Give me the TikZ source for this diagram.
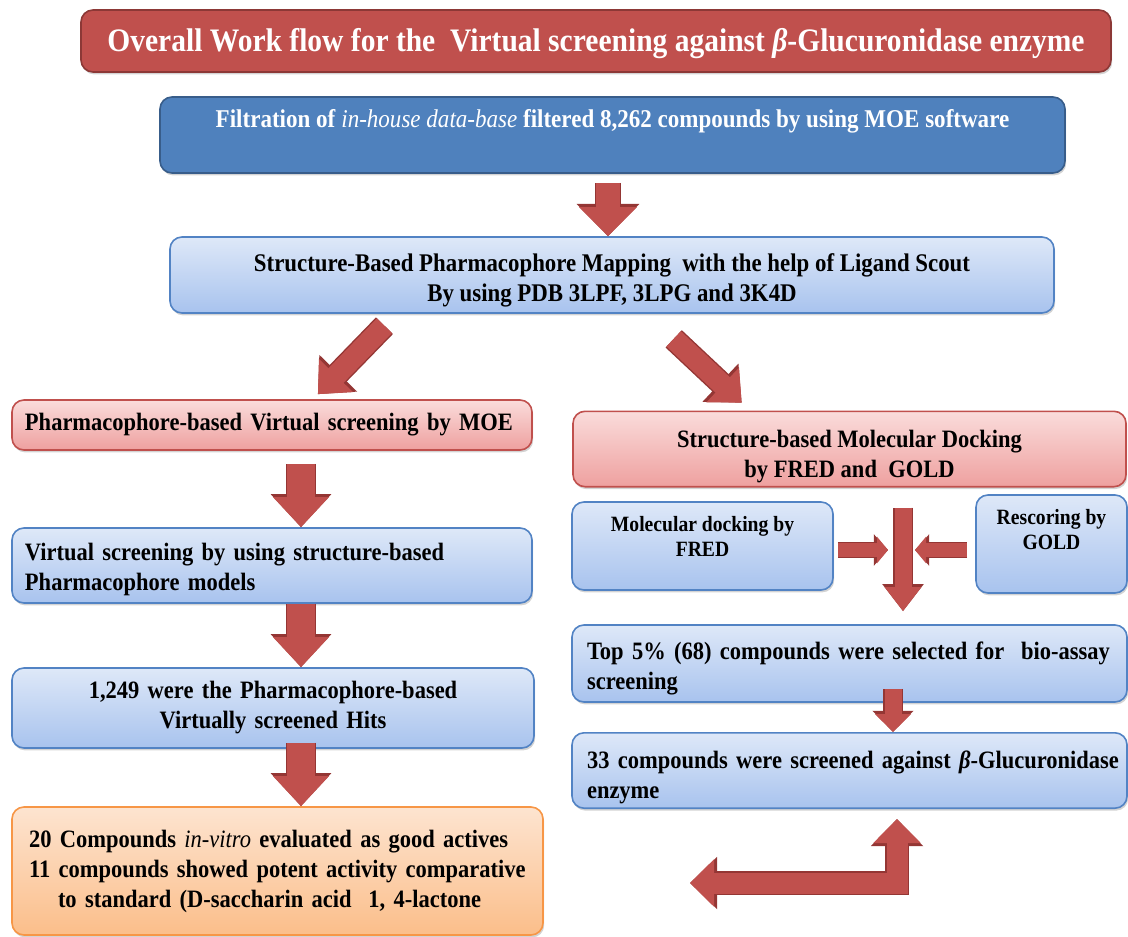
\documentclass[tikz,border=0pt]{standalone}
\usepackage{fontspec}
\setmainfont[FakeStretch=0.9]{Liberation Serif}
\usetikzlibrary{arrows.meta,shadows}

\definecolor{titlered}{HTML}{C0504D}
\definecolor{titleedge}{HTML}{8C3836}
\definecolor{moeblue}{HTML}{4F81BD}
\definecolor{moeedge}{HTML}{385D8A}
\definecolor{paleblue}{HTML}{DEE8F8}
\definecolor{midblue}{HTML}{A8C3EE}
\definecolor{blueedge}{HTML}{5283C4}
\definecolor{palepink}{HTML}{FADCDB}
\definecolor{midpink}{HTML}{EEA09F}
\definecolor{pinkedge}{HTML}{C0504D}
\definecolor{paleorange}{HTML}{FDE4D0}
\definecolor{midorange}{HTML}{FBBE8A}
\definecolor{orangeedge}{HTML}{F79646}
\definecolor{arrowred}{HTML}{C0504D}
\definecolor{arrowedge}{HTML}{943634}

\tikzset{
  box/.style={rounded corners=6pt, line width=0.8pt, inner xsep=6.5pt, inner ysep=2pt,
    font=\bfseries\fontsize{12.5}{15}\selectfont,
    drop shadow={shadow xshift=0.6pt, shadow yshift=-1.2pt, opacity=0.35}},
  bluebox/.style={box, draw=blueedge, top color=paleblue, bottom color=midblue},
  pinkbox/.style={box, draw=pinkedge, top color=palepink, bottom color=midpink},
  orangebox/.style={box, draw=orangeedge, top color=paleorange, bottom color=midorange},
  smallbox/.style={bluebox, align=center, font=\bfseries\fontsize{10.9}{12.5}\selectfont},
  blockarrow/.style n args={3}{draw=arrowred, line width=#1,
    -{Triangle[length=#3, width=#2]},
    preaction={draw=arrowedge, line width=#1+1.4pt,
      -{Triangle[length=#3+1.6pt, width=#2+2.4pt]}}},
  twowayarrow/.style n args={3}{draw=arrowred, line width=#1,
    {Triangle[length=#3, width=#2]}-{Triangle[length=#3, width=#2]},
    preaction={draw=arrowedge, line width=#1+1.4pt,
      {Triangle[length=#3+1.6pt, width=#2+2.4pt]}-{Triangle[length=#3+1.6pt, width=#2+2.4pt]}}}
}

\begin{document}
\begin{tikzpicture}[x=0.5pt, y=-0.5pt]
    \useasboundingbox (0,0) rectangle (1128,936);

    % Top of the flow
    \node (title) [box, draw=titleedge, fill=titlered, text=white, minimum width=515pt, minimum height=31pt,
        text height=11pt, text depth=0pt, font=\bfseries\fontsize{16.4}{19}\selectfont] at (596,41)
        {Overall Work flow for the\ \ Virtual screening against \textit{β}-Glucuronidase enzyme};
    \node (moe) [box, draw=moeedge, fill=moeblue, text=white, minimum width=452.5pt, minimum height=38pt,
        text height=8pt, text depth=15pt, font=\bfseries\fontsize{12.8}{15}\selectfont] at (612.5,135)
        {Filtration of \textmd{\textit{in-house data-base}} filtered 8,262 compounds by using MOE software};
    \node (sbpm) [bluebox, align=center, minimum width=442pt, minimum height=38pt,
        font=\bfseries\fontsize{12.7}{15}\selectfont] at (612,275)
        {\rule{0pt}{14pt}Structure-Based Pharmacophore Mapping\ \ with the help of Ligand Scout\\By using PDB 3LPF, 3LPG and 3K4D};

    % Left column
    \node (phmoe) [pinkbox, align=left, text width=247pt, minimum height=25pt] at (272,425)
        {\mbox{Pharmacophore-based Virtual screening by MOE}};
    \node (vsm) [bluebox, align=left, text width=247pt, minimum height=37.5pt] at (272,565.5)
        {\rule{0pt}{13pt}Virtual screening by using structure-based\\Pharmacophore models};
    \node (hits) [bluebox, align=center, text width=248pt, minimum height=40pt] at (273,708)
        {1,249 were the Pharmacophore-based\\Virtually screened Hits};
    \node (active) [orangebox, align=left, inner xsep=8.5pt, text width=248.5pt, minimum height=64pt] at (277.5,871)
        {20 Compounds \textmd{\textit{in-vitro}} evaluated as good actives\\
         \mbox{11 compounds showed potent activity comparative}\\
         \hspace*{14.5pt}to standard (D-saccharin acid\ \ 1, 4-lactone};

    % Right column
    \node (sbmd) [pinkbox, align=center, minimum width=276.5pt, minimum height=36pt] at (849.5,449)
        {\rule{0pt}{16pt}Structure-based Molecular Docking\\by FRED and\ \ GOLD};
    \node (fred) [smallbox, minimum width=130.5pt, minimum height=44pt] at (702.5,546)
        {Molecular docking by\\FRED\rule[-10pt]{0pt}{0pt}};
    \node (gold) [smallbox, minimum width=75.5pt, minimum height=49pt] at (1051.5,544)
        {Rescoring by\\GOLD\rule[-15pt]{0pt}{0pt}};
    \node (top5) [bluebox, align=left, inner xsep=7.5pt, text width=262.5pt, minimum height=38.5pt] at (849.5,663.5)
        {\rule{0pt}{14pt}\mbox{Top 5\% (68) compounds were selected for\ \ bio-assay}\\screening};
    \node (scr33) [bluebox, align=left, inner xsep=7.5pt, text width=262.5pt, minimum height=37.5pt] at (849.5,770.5)
        {\rule{0pt}{16pt}\mbox{33 compounds were screened against \textit{β}-Glucuronidase}\\enzyme};

    % where the arrows run
    \coordinate (a1) at (608,0);
    \coordinate (dl1) at (396,0);
    \coordinate (dl2) at (313,0);
    \coordinate (dr1) at (647,0);
    \coordinate (dr2) at (750,0);
    \coordinate (colL) at (301,0);
    \coordinate (dock) at (903,550);
    \coordinate (bio) at (893,0);
    \coordinate (bend) at (897,0);
    \coordinate (back) at (690,883);

    \draw[blockarrow={12pt}{28pt}{14.5pt}, shorten <=4.5pt] (moe.south -| a1) -- (sbpm.north -| a1);
    \draw[blockarrow={10.5pt}{23pt}{13pt}, shorten <=8.3pt, shorten >=3.5pt] (sbpm.south -| dl1) -- (phmoe.north -| dl2);
    \draw[blockarrow={10.5pt}{23pt}{13pt}, shorten <=18.3pt, shorten >=5.7pt] (sbpm.south -| dr1) -- (sbmd.north -| dr2);

    \draw[blockarrow={14pt}{27pt}{15pt}, shorten <=6.5pt] (phmoe.south -| colL) -- (vsm.north -| colL);
    \draw[blockarrow={14pt}{27pt}{15pt}] (vsm.south -| colL) -- (hits.north -| colL);
    \draw[blockarrow={14pt}{27pt}{15pt}, shorten <=-3pt] (hits.south -| colL) -- (active.north -| colL);

    \draw[blockarrow={8.5pt}{17.5pt}{12pt}, shorten <=10pt, shorten >=6.5pt] (sbmd.south -| dock) -- (top5.north -| dock);
    \draw[blockarrow={7pt}{13pt}{5.5pt}, shorten <=2pt, shorten >=7.5pt] (fred.east |- dock) -- (dock);
    \draw[blockarrow={7pt}{13pt}{5.5pt}, shorten <=4pt, shorten >=6pt] (gold.west |- dock) -- (dock);
    \draw[blockarrow={8.5pt}{17.5pt}{9pt}, shorten <=-7pt] (top5.south -| bio) -- (scr33.north -| bio);

    \draw[twowayarrow={10.5pt}{23pt}{12pt}, shorten >=5pt] (back) -| (scr33.south -| bend);
\end{tikzpicture}
\end{document}
